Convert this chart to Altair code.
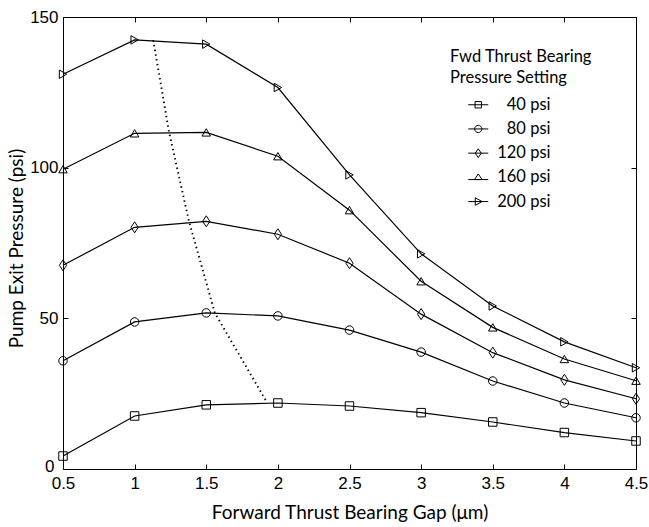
import altair as alt
import pandas as pd

# Forward thrust bearing gap (um) at which each pressure curve was measured
gap = [0.5, 1.0, 1.5, 2.0, 2.5, 3.0, 3.5, 4.0, 4.5]

# Fwd thrust bearing pressure settings
settings = ["40 psi", "80 psi", "120 psi", "160 psi", "200 psi"]

# Pump exit pressure (psi) for each setting
p40 = [4.3, 17.6, 21.3, 21.9, 20.9, 18.7, 15.6, 12.1, 9.3]
p80 = [35.9, 48.8, 51.8, 50.8, 46.1, 38.8, 29.2, 21.9, 17.0]
p120 = [67.6, 80.2, 82.2, 77.9, 68.3, 51.4, 38.6, 29.6, 23.3]
p160 = [99.5, 111.4, 111.7, 103.8, 85.9, 62.3, 47.0, 36.5, 29.3]
p200 = [131.0, 142.4, 141.0, 126.6, 97.6, 71.4, 54.1, 42.2, 33.6]

# Locus of peak pump exit pressure (dotted curve)
peak_gap = [1.13, 1.24, 1.38, 1.56, 1.92]
peak_pressure = [142.3, 111.9, 82.1, 51.8, 22.4]

x_ticks = gap
y_ticks = [0, 50, 100, 150]

rows = []
for name, vals in zip(settings, [p40, p80, p120, p160, p200]):
    for g, v in zip(gap, vals):
        rows.append({"gap": g, "pressure": v, "setting": name})
df = pd.DataFrame(rows)
peak_df = pd.DataFrame({"gap": peak_gap, "pressure": peak_pressure})

W, H = 573, 452
TICK_FONT = "Liberation Sans"
TEXT_FONT = "Lato"
INK = "#000000"
inward = {"expr": "-5"}

x_scale = alt.Scale(domain=[0.5, 4.5], nice=False, zero=False)
y_scale = alt.Scale(domain=[0, 150], nice=False, zero=False)

x_axis = alt.Axis(
    values=x_ticks, format="~g", tickSize=inward, tickColor=INK, tickWidth=1,
    labelFont=TICK_FONT, labelFontSize=17, labelColor=INK, labelPadding=11,
    labelFlush=False, labelOverlap=False,
    title="Forward Thrust Bearing Gap (\u03bcm)", titleFont=TEXT_FONT,
    titleFontSize=19, titleFontWeight="normal", titleColor=INK,
    titleY=49, titleBaseline="alphabetic", grid=False, domain=False,
)
# The "0" label sits a little further left and higher, clear of "0.5"
y_axis = alt.Axis(
    values=y_ticks, format="d", tickSize=inward, tickColor=INK, tickWidth=1,
    labelFont=TICK_FONT, labelFontSize=17, labelColor=INK,
    labelPadding={"condition": {"test": "datum.value == 0", "value": 14}, "value": 10},
    labelOffset={"condition": {"test": "datum.value == 0", "value": -3}, "value": 0},
    labelFlush=False, labelOverlap=False,
    title="Pump Exit Pressure (psi)", titleFont=TEXT_FONT,
    titleFontSize=19, titleFontWeight="normal", titleColor=INK,
    titleX=-47, titleY=231, titleBaseline="middle", grid=False, domain=False,
)
top_axis = alt.Axis(
    orient="top", values=x_ticks, tickSize=inward, tickColor=INK, tickWidth=1,
    labels=False, title=None, grid=False, domain=False,
)
right_axis = alt.Axis(
    orient="right", values=y_ticks, tickSize=inward, tickColor=INK, tickWidth=1,
    labels=False, title=None, grid=False, domain=False,
)

# Plot markers: square, circle, narrow diamond, triangle up, triangle right
marker_shapes = [
    "square",
    "circle",
    "M0,-1.3L0.85,0L0,1.3L-0.85,0Z",
    "triangle-up",
    "triangle-right",
]
# Legend keys: each marker with a short line through it
legend_shapes = [
    "M-2.5,0L2.5,0M-0.8,-0.8L0.8,-0.8L0.8,0.8L-0.8,0.8Z",
    "M-2.5,0L2.5,0M-0.9,0A0.9,0.9 0 1,0 0.9,0A0.9,0.9 0 1,0 -0.9,0Z",
    "M-2.5,0L2.5,0M0,-1.1L0.75,0L0,1.1L-0.75,0Z",
    "M-2.5,0.55L2.5,0.55M0,-0.85L0.95,0.55L-0.95,0.55Z",
    "M-2.5,0L2.5,0M-0.75,-0.95L0.95,0L-0.75,0.95Z",
]

base = alt.Chart(df)

lines = base.mark_line(color=INK, strokeWidth=1.2).encode(
    x=alt.X("gap:Q", scale=x_scale, axis=x_axis),
    y=alt.Y("pressure:Q", scale=y_scale, axis=y_axis),
    detail="setting:N",
)

peak = alt.Chart(peak_df).mark_line(
    color=INK, strokeWidth=1.9, strokeDash=[1.4, 3.4], strokeCap="butt"
).encode(
    x=alt.X("gap:Q", axis=None),
    y=alt.Y("pressure:Q", axis=None),
)

points = base.mark_point(
    filled=False, color=INK, strokeWidth=1, size=72, opacity=1
).encode(
    x=alt.X("gap:Q", axis=None),
    y=alt.Y("pressure:Q", axis=None),
    shape=alt.Shape(
        "setting:N",
        scale=alt.Scale(domain=settings, range=marker_shapes),
        legend=None,
    ),
)

legend_keys = base.mark_point(
    filled=False, color=INK, strokeWidth=1, size=64, opacity=0
).encode(
    x=alt.X("gap:Q", axis=top_axis),
    y=alt.Y("pressure:Q", axis=right_axis),
    shape=alt.Shape(
        "setting:N",
        scale=alt.Scale(domain=settings, range=legend_shapes),
        legend=alt.Legend(
            title=["Fwd Thrust Bearing", "Pressure Setting"],
            orient="none", legendX=387, legendY=32, padding=0,
            titleFont=TEXT_FONT, titleFontSize=16.5, titleFontWeight="normal",
            titleColor=INK, titleLineHeight=21, titlePadding=10, titleAnchor="start",
            labelFont=TEXT_FONT, labelFontSize=16.5, labelColor=INK,
            labelAlign="right", labelOffset=64, symbolOffset=20, symbolSize=64,
            symbolStrokeColor=INK, symbolStrokeWidth=1,
            symbolFillColor="transparent", symbolOpacity=1, rowPadding=7.2,
        ),
    ),
)

chart = (
    alt.layer(lines, peak, points, legend_keys)
    .resolve_scale(shape="independent")
    .resolve_axis(x="independent", y="independent")
    .properties(
        width=W, height=H,
        autosize=alt.AutoSizeParams(type="none"),
        padding={"left": 63, "top": 17, "right": 13, "bottom": 58},
        background="white",
    )
    .configure_view(stroke=INK, strokeWidth=1)
)

chart.save("out.html", embed_options={"renderer": "svg", "actions": False})
